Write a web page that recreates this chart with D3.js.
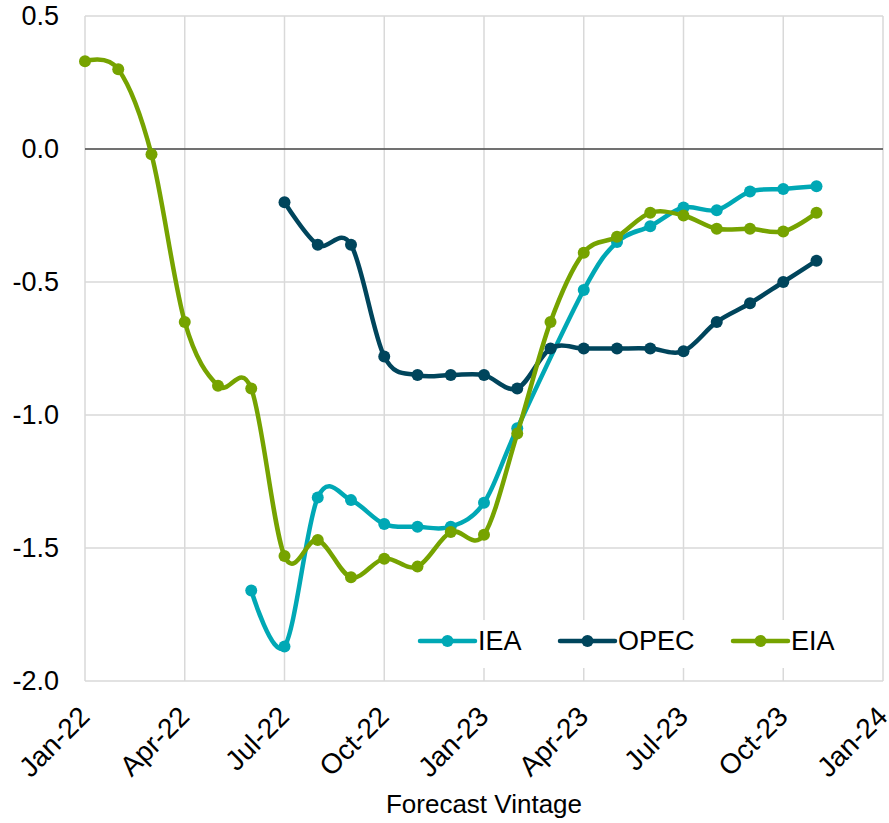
<!DOCTYPE html>
<html>
<head>
<meta charset="utf-8">
<script src="https://cdn.jsdelivr.net/npm/d3@7"></script>
<style>
  html, body { margin: 0; padding: 0; background: #fff; }
  svg { display: block; font-family: Arial, "Liberation Sans", sans-serif; }
</style>
</head>
<body>
<svg id="chart" width="889" height="823"></svg>
<script>
// Monthly forecast vintages, Jan-22 .. Nov-23
const months = ["2022-01","2022-02","2022-03","2022-04","2022-05","2022-06","2022-07","2022-08",
  "2022-09","2022-10","2022-11","2022-12","2023-01","2023-02","2023-03","2023-04","2023-05",
  "2023-06","2023-07","2023-08","2023-09","2023-10","2023-11"];

// Series values (null = no forecast for that vintage)
const ieaValues = [null,null,null,null,null,-1.66,-1.87,-1.31,-1.32,-1.41,-1.42,-1.42,-1.33,-1.05,null,
  -0.53,-0.35,-0.29,-0.22,-0.23,-0.16,-0.15,-0.14];
const opecValues = [null,null,null,null,null,null,-0.20,-0.36,-0.36,-0.78,-0.85,-0.85,-0.85,-0.90,-0.75,
  -0.75,-0.75,-0.75,-0.76,-0.65,-0.58,-0.50,-0.42];
const eiaValues = [0.33,0.30,-0.02,-0.65,-0.89,-0.90,-1.53,-1.47,-1.61,-1.54,-1.57,-1.44,-1.45,-1.07,-0.65,
  -0.39,-0.33,-0.24,-0.25,-0.30,-0.30,-0.31,-0.24];

const seriesNames = ["IEA","OPEC","EIA"];
const seriesColors = ["#00A8B5","#00455C","#76A300"];
const yTicks = [0.5, 0.0, -0.5, -1.0, -1.5, -2.0];
const xTickDates = ["2022-01","2022-04","2022-07","2022-10","2023-01","2023-04","2023-07","2023-10","2024-01"];
const xTitle = "Forecast Vintage";

const parse = d3.timeParse("%Y-%m");
const fmt = d3.timeFormat("%b-%y");
const start = parse("2022-01");
// Months are spaced evenly along the axis (month-based date axis)
const monthIndex = d => d3.timeMonth.count(start, d);

const svg = d3.select("#chart");
const plot = {left: 85, right: 883, top: 16, bottom: 681};

const x = d3.scaleLinear()
  .domain([0, monthIndex(parse("2024-01"))])
  .range([plot.left, plot.right]);
const y = d3.scaleLinear()
  .domain([-2.0, 0.5])
  .range([plot.bottom, plot.top]);
const xd = d => x(monthIndex(d));

const gridColor = "#d9d9d9";

// Gridlines
svg.append("g")
  .selectAll("line")
  .data(yTicks)
  .join("line")
  .attr("x1", plot.left).attr("x2", plot.right)
  .attr("y1", d => y(d)).attr("y2", d => y(d))
  .attr("stroke", gridColor).attr("stroke-width", 1.5);

svg.append("g")
  .selectAll("line")
  .data(xTickDates.map(parse))
  .join("line")
  .attr("x1", d => xd(d)).attr("x2", d => xd(d))
  .attr("y1", plot.top).attr("y2", plot.bottom)
  .attr("stroke", gridColor).attr("stroke-width", 1.5);

// Zero line
svg.append("line")
  .attr("x1", plot.left).attr("x2", plot.right)
  .attr("y1", y(0)).attr("y2", y(0))
  .attr("stroke", "#000").attr("stroke-width", 1.2);

// Y axis labels
svg.append("g")
  .selectAll("text")
  .data(yTicks)
  .join("text")
  .attr("x", 59)
  .attr("y", d => y(d))
  .attr("dy", "0.35em")
  .attr("text-anchor", "end")
  .attr("font-size", 27)
  .attr("fill", "#000")
  .text(d => d.toFixed(1));

// X axis labels (rotated 45 degrees)
svg.append("g")
  .selectAll("text")
  .data(xTickDates.map(parse))
  .join("text")
  .attr("x", 0)
  .attr("y", 0)
  .attr("transform", d => `translate(${xd(d) + 1},${plot.bottom + 32}) rotate(-45)`)
  .attr("text-anchor", "end")
  .attr("dominant-baseline", "middle")
  .style("font-size", "28px")
  .attr("fill", "#000")
  .text(d => fmt(d));

// X axis title
svg.append("text")
  .attr("x", (plot.left + plot.right) / 2)
  .attr("y", 813)
  .attr("text-anchor", "middle")
  .attr("font-size", 26)
  .attr("fill", "#000")
  .text(xTitle);

// Legend (white box over gridlines)
const legendX = 410, legendY = 620;
const legend = svg.append("g");
legend.append("rect")
  .attr("x", legendX).attr("y", legendY)
  .attr("width", 448).attr("height", 48)
  .attr("fill", "#fff");
const legendStarts = [420, 560, 733];
seriesNames.forEach((name, i) => {
  const gx = legendStarts[i];
  const gy = 641;
  legend.append("line")
    .attr("x1", gx).attr("x2", gx + 55)
    .attr("y1", gy).attr("y2", gy)
    .attr("stroke", seriesColors[i]).attr("stroke-width", 4.5)
    .attr("stroke-linecap", "round");
  legend.append("circle")
    .attr("cx", gx + 27.5).attr("cy", gy).attr("r", 6)
    .attr("fill", seriesColors[i]);
  legend.append("text")
    .attr("x", gx + 58).attr("y", gy)
    .attr("dy", "0.35em")
    .attr("font-size", 27)
    .attr("fill", "#000")
    .text(name);
});

// Series lines and markers (smoothed)
const allSeries = [ieaValues, opecValues, eiaValues];
const line = d3.line()
  .x(d => xd(d.date))
  .y(d => y(d.value))
  .curve(d3.curveCatmullRom.alpha(0));

allSeries.forEach((vals, i) => {
  const pts = months.map((m, j) => ({date: parse(m), value: vals[j]}))
    .filter(d => d.value !== null);
  const g = svg.append("g");
  g.append("path")
    .datum(pts)
    .attr("d", line)
    .attr("fill", "none")
    .attr("stroke", seriesColors[i])
    .attr("stroke-width", 4.5)
    .attr("stroke-linejoin", "round")
    .attr("stroke-linecap", "round");
  g.selectAll("circle")
    .data(pts)
    .join("circle")
    .attr("cx", d => xd(d.date))
    .attr("cy", d => y(d.value))
    .attr("r", 6)
    .attr("fill", seriesColors[i]);
});
</script>
</body>
</html>
